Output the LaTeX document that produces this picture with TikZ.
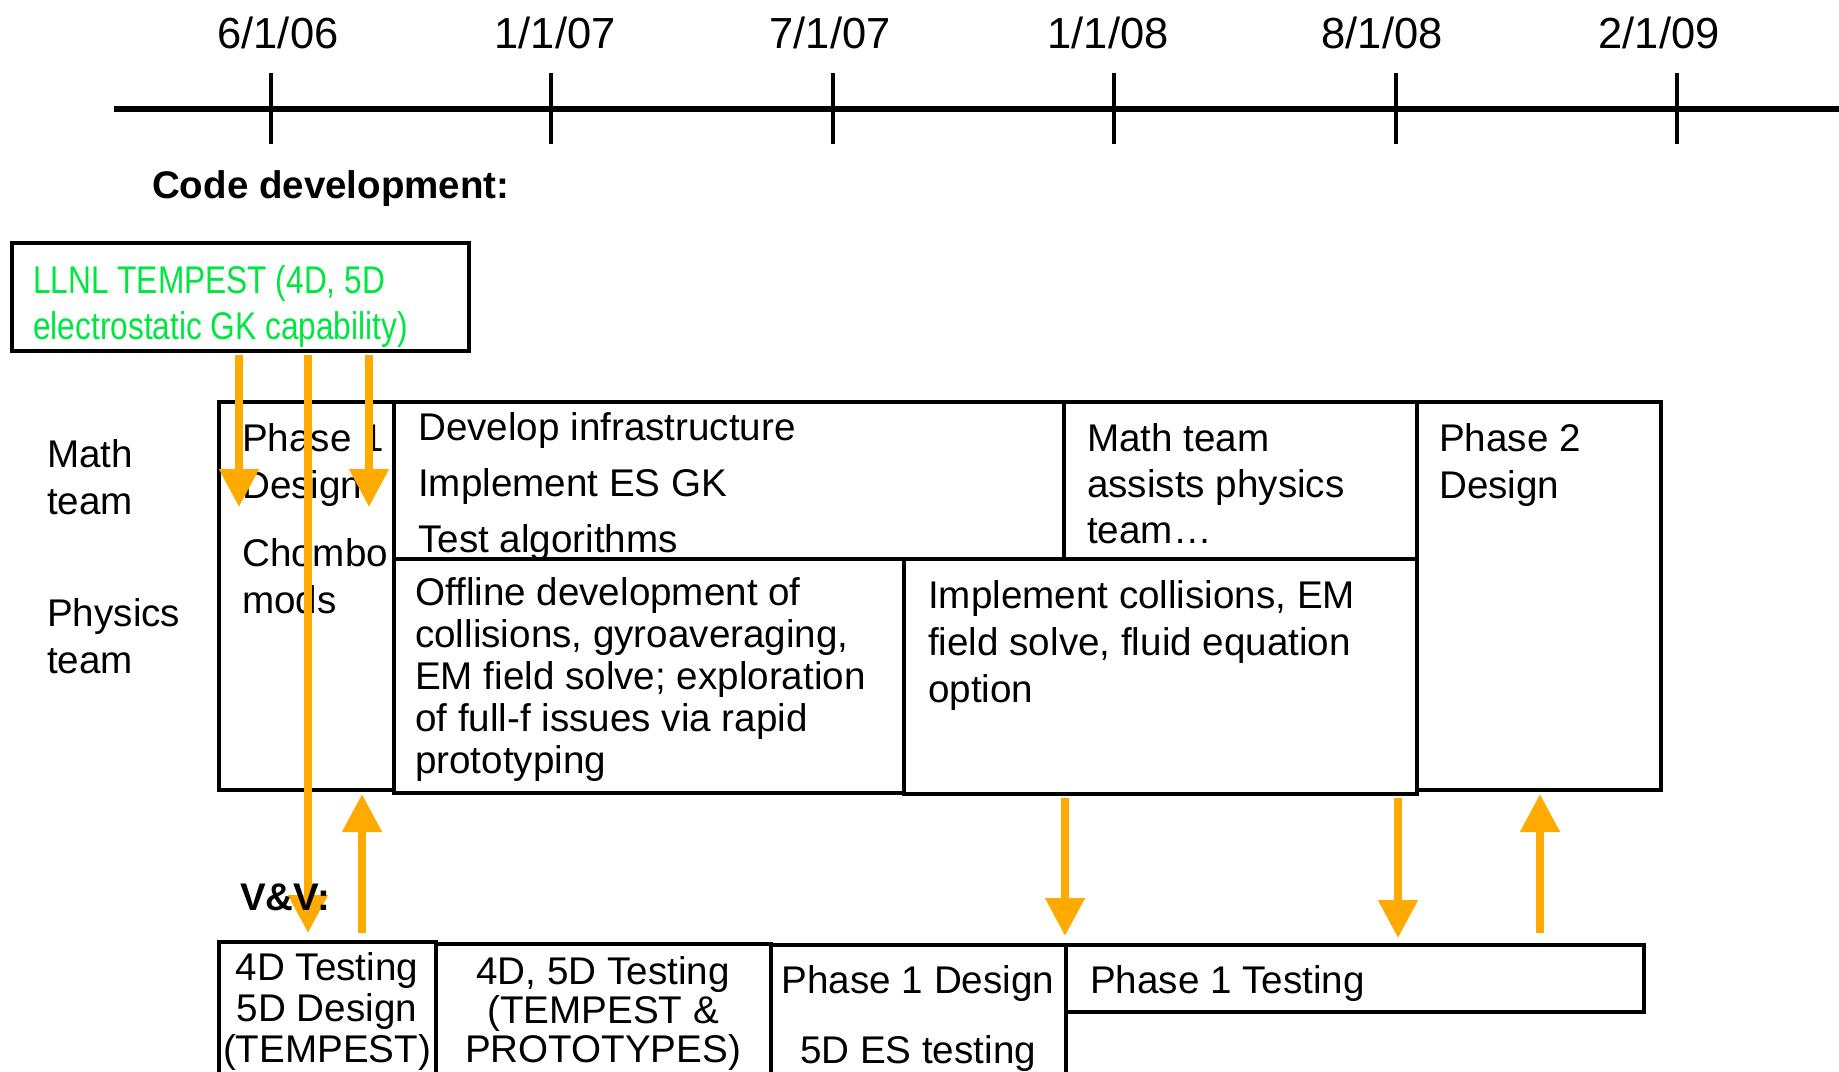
\documentclass[tikz,border=0pt]{standalone}
\usepackage{fontspec}
\setmainfont{Liberation Sans}
\newfontfamily\narrowfont[FakeStretch=0.82]{Liberation Sans}
\usetikzlibrary{arrows.meta,fit}
\definecolor{vvorange}{RGB}{255,170,0}
\definecolor{llnlgreen}{RGB}{0,230,64}
\tikzset{
	box/.style = {draw=black, line width=4pt, inner sep=0pt, fit={#1}},
	txt/.style = {anchor=base west, align=left, inner sep=0pt,
		font=\fontsize{38.6}{#1}\selectfont},
	txt/.default = 47,
	ctxt/.style = {txt=#1, anchor=base, align=center},
	ctxt/.default = 40,
	green/.style = {txt, text=llnlgreen,
		font=\narrowfont\fontsize{38.6}{46}\selectfont},
	head/.style = {anchor=base west, inner sep=0pt,
		font=\fontsize{38.5}{46}\selectfont\bfseries},
	date/.style = {anchor=base, inner sep=0pt,
		font=\fontsize{43.5}{52}\selectfont},
	flow/.style = {draw=vvorange, line width=8pt,
		-{Triangle[width=38pt,length=38pt]}}
}
\begin{document}
\begin{tikzpicture}[x=1pt,y=-1pt]
\useasboundingbox (0,0) rectangle (1839,1071);

% time axis
\draw[line width=6pt] (114,109) -- (1845,109);
\foreach \x in {271,551,833,1114,1396,1677}
	\draw[line width=4pt] (\x,73) -- (\x,144);
\foreach \x/\d [count=\i] in {278/{6/1/06}, 555/{1/1/07}, 830/{7/1/07},
		1108/{1/1/08}, 1382/{8/1/08}, 1659/{2/1/09}}
	\node[date] (d\i) at (\x,48) {\d};

% multi-line texts sit on the baseline of their last line
\node[head] (code) at (152,198) {Code development:};
\node[box={(12,243) (469,351)}] (llnl) {};
\node[green] (llnlt) at (33,339) {LLNL TEMPEST (4D, 5D\\electrostatic GK capability)};

% team rows
\node[txt] (math) at (47,514) {Math\\team};
\node[txt] (phys) at (47,673) {Physics\\team};
\node[box={(219,402) (394,790)}] (ph1) {};
\node[box={(394,402) (1064,559)}] (dev) {};
\node[box={(1064,402) (1417,559)}] (assist) {};
\node[box={(1417,402) (1661,790)}] (ph2) {};
\node[box={(394,559) (904,793)}] (offline) {};
\node[box={(904,559) (1417,794)}] (coll) {};

\node[txt] (ph1t) at (242,498) {Phase 1\\Design};
\node[txt] (chombo) at (242,613) {Chombo\\mods};
\node[txt=56] (devt) at (418,552) {Develop infrastructure\\Implement ES GK\\Test algorithms};
\node[txt=46] (assistt) at (1087,543) {Math team\\assists physics\\team…};
\node[txt] (ph2t) at (1439,498) {Phase 2\\Design};
\node[txt=42] (offt) at (415,773) {Offline development of\\collisions, gyroaveraging,\\EM field solve; exploration\\of full-f issues via rapid\\prototyping};
\node[txt] (collt) at (928,702) {Implement collisions, EM\\field solve, fluid equation\\option};

% V&V row
\node[box={(219,942) (436,1110)}] (vv1) {};
\node[box={(436,944) (771,1110)}] (vv2) {};
\node[box={(771,945) (1066,1110)}] (vv3) {};
\node[box={(1066,945) (1644,1012)}] (vv4) {};
\node[ctxt=41] (vv1t) at (327,1062) {4D Testing\\5D Design\\(TEMPEST)};
\node[ctxt=39] (vv2t) at (603,1062) {4D, 5D Testing\\(TEMPEST \&\\PROTOTYPES)};
\node[ctxt=70] (vv3t) at (918,1063) {Phase 1 Design\\5D ES testing};
\node[txt] (vv4t) at (1090,993) {Phase 1 Testing};

% hand-offs
\coordinate (a1) at (239,507);
\coordinate (a2) at (308,933);
\coordinate (a3) at (369,507);
\coordinate (b1) at (362,933);
\coordinate (a4) at (1065,936);
\coordinate (a5) at (1398,938);
\coordinate (b2) at (1540,933);
\draw[flow, shorten <=2pt] (llnl.south -| a1) -- (a1);
\draw[flow, shorten <=2pt] (llnl.south -| a2) -- (a2);
\draw[flow, shorten <=2pt] (llnl.south -| a3) -- (a3);
\draw[flow, shorten >=2pt] (b1) -- (ph1.south -| b1);
\draw[flow, shorten <=2pt] (coll.south -| a4) -- (a4);
\draw[flow, shorten <=2pt] (coll.south -| a5) -- (a5);
\draw[flow, shorten >=2pt] (b2) -- (ph2.south -| b2);

\node[head] (vv) at (240,910) {V\&V:};
\end{tikzpicture}
\end{document}
